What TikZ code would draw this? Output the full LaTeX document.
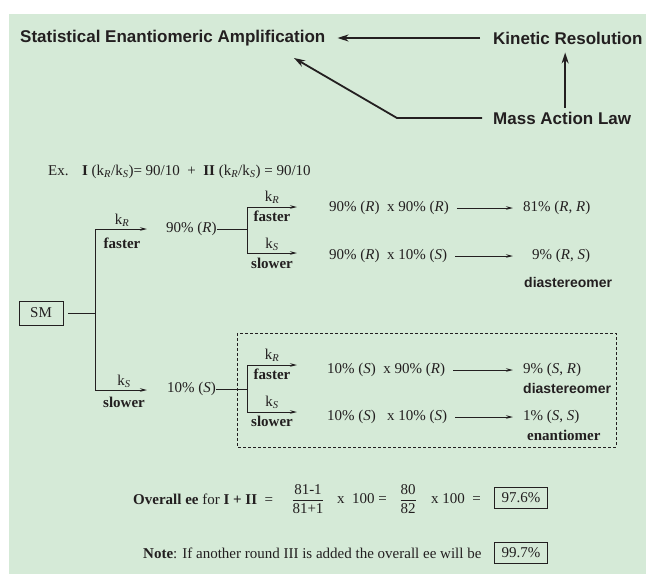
\documentclass[tikz,border=0pt]{standalone}
\usepackage{fontspec}
\setmainfont{Liberation Serif}
\setsansfont{Liberation Sans}
\usetikzlibrary{arrows.meta}
\definecolor{bggreen}{RGB}{213,234,215}
\definecolor{ink}{RGB}{35,31,32}
\newcommand{\kR}{k\textsubscript{\textit{R}}}
\newcommand{\kS}{k\textsubscript{\textit{S}}}
\tikzset{
	head/.style={font=\sffamily\bfseries\fontsize{17}{20}\selectfont, inner sep=0pt},
	lbl/.style={font=\fontsize{15}{18}\selectfont, inner sep=0pt},
	tag/.style={font=\sffamily\bfseries\fontsize{14}{16}\selectfont, inner sep=0pt},
	bigarrow/.style={line width=2.2pt, -{Stealth[length=11pt,width=7pt]}},
	brarrow/.style={line width=0.9pt, -{Stealth[length=7pt,width=3.5pt]}},
	valbox/.style={lbl, draw, line width=0.9pt, inner xsep=7pt, inner ysep=5pt},
}
\begin{document}
\begin{tikzpicture}[x=1pt,y=-1pt,ink,text=ink]
		\useasboundingbox (0,0) rectangle (646,574);
		\fill[bggreen] (9,14) rectangle (646,574);
		\node[head,anchor=west] (sea) at (20,38) {Statistical Enantiomeric Amplification};
		\node[head,anchor=west] (kin) at (493,38) {Kinetic Resolution};
		\node[head,anchor=west] (mass) at (493,118) {Mass Action Law};
		\coordinate (tip) at (294,58);
		\draw[bigarrow] ([xshift=-13pt]kin.west) -- ([xshift=12pt]sea.east);
		\draw[bigarrow] ([xshift=3pt,yshift=4pt]mass.north) -- ([xshift=3pt,yshift=-8pt]mass.north |- kin.south);
		\draw[line width=1.8pt, -{Stealth[length=11pt,width=7pt]}] ([xshift=-11pt]mass.west) -- (397,118) -- (tip);
		\node[lbl,anchor=west] (ex) at (48,172) {Ex.\hspace{0.9em}\textbf{I} (\kR/\kS)= 90/10 \ + \ \textbf{II} (\kR/\kS) = 90/10};
		\node[lbl, draw, line width=0.8pt, minimum width=44pt, minimum height=24pt] (sm) at (41,313) {SM};
		\coordinate (split) at (95,313);
		\draw[line width=0.9pt] ([xshift=5pt]sm.east) -- (split);
		\draw[brarrow] (split) -- (95,229) -- (147,229);
		\draw[brarrow] (split) -- (95,390) -- (147,390);
		\node[lbl] (k1) at (122,220) {\kR};
		\node[lbl] (f1) at (122,243) {\textbf{faster}};
		\node[lbl] (k2) at (124,381) {\kS};
		\node[lbl] (s2) at (124,402) {\textbf{slower}};
		\node[lbl,anchor=west] (r90) at (166,229) {90\% (\textit{R})};
		\node[lbl,anchor=west] (s10) at (167,389) {10\% (\textit{S})};
		\coordinate (rj) at (247,229);
		\coordinate (sj) at (247,389);
		\draw[line width=0.9pt] (r90.east) -- (rj);
		\draw[line width=0.9pt] (s10.east) -- (sj);
		\draw[brarrow] (rj) -- ++(0,-22) -- ++(50,0);
		\draw[brarrow] (rj) -- ++(0,24) -- ++(50,0);
		\draw[brarrow] (sj) -- ++(0,-24) -- ++(50,0);
		\draw[brarrow] (sj) -- ++(0,23) -- ++(50,0);
		\node[lbl] (k3) at (272,197) {\kR};
		\node[lbl] (f3) at (272,216) {\textbf{faster}};
		\node[lbl] (k4) at (272,244) {\kS};
		\node[lbl] (s4) at (272,263) {\textbf{slower}};
		\node[lbl] (k5) at (272,355) {\kR};
		\node[lbl] (f5) at (272,374) {\textbf{faster}};
		\node[lbl] (k6) at (272,402) {\kS};
		\node[lbl] (s6) at (272,421) {\textbf{slower}};
		\node[lbl,anchor=west] (p1) at (329,208) {90\% (\textit{R})\ \ x 90\% (\textit{R})};
		\node[lbl,anchor=west] (q1) at (523,208) {81\% (\textit{R}, \textit{R})};
		\node[lbl,anchor=west] (p2) at (329,256) {90\% (\textit{R})\ \ x 10\% (\textit{S})};
		\node[lbl,anchor=west] (q2) at (532,256) {9\% (\textit{R}, \textit{S})};
		\node[tag,anchor=west] (dia1) at (524,282) {diastereomer};
		\node[lbl,anchor=west] (p3) at (327,370) {10\% (\textit{S})\ \ x 90\% (\textit{R})};
		\node[lbl,anchor=west] (q3) at (523,370) {9\% (\textit{S}, \textit{R})};
		\node[tag,anchor=west] (dia2) at (523,388) {diastereomer};
		\node[lbl,anchor=west] (p4) at (327,417) {10\% (\textit{S})\ \ \ x 10\% (\textit{S})};
		\node[lbl,anchor=west] (q4) at (523,417) {1\% (\textit{S}, \textit{S})};
		\node[lbl,anchor=west] (en) at (527,435) {\textbf{enantiomer}};
		\draw[brarrow, shorten <=8pt, shorten >=10pt] (p1.east) -- (q1.west);
		\draw[brarrow, shorten <=8pt, shorten >=10pt] (p2.east) -- (q1.west |- q2.west);
		\draw[brarrow, shorten <=8pt, shorten >=10pt] (p3.east) -- (q3.west);
		\draw[brarrow, shorten <=8pt, shorten >=10pt] (p4.east) -- (q4.west);
		\draw[line width=0.8pt, dash pattern=on 3pt off 2pt] (237,333) rectangle (616,447);
		\node[lbl,anchor=west] (ovl) at (133,499) {\textbf{Overall ee} for \textbf{I + II} \ =};
		\node[lbl] (fr1) at (308,499) {$\displaystyle\frac{\mbox{81-1}}{\mbox{81+1}}$};
		\node[lbl,anchor=west] (x1) at (337,499) {x\ \ 100 =};
		\node[lbl] (fr2) at (408,499) {$\displaystyle\frac{\mbox{80}}{\mbox{82}}$};
		\node[lbl,anchor=west] (x2) at (431,499) {x 100\ \ =};
		\node[valbox] (ee2) at (521,498) {97.6\%};
		\node[lbl,anchor=west] (note) at (143,553) {\textbf{Note}: If another round III is added the overall ee will be};
		\node[valbox] (ee3) at (521,553) {99.7\%};
\end{tikzpicture}
\end{document}
